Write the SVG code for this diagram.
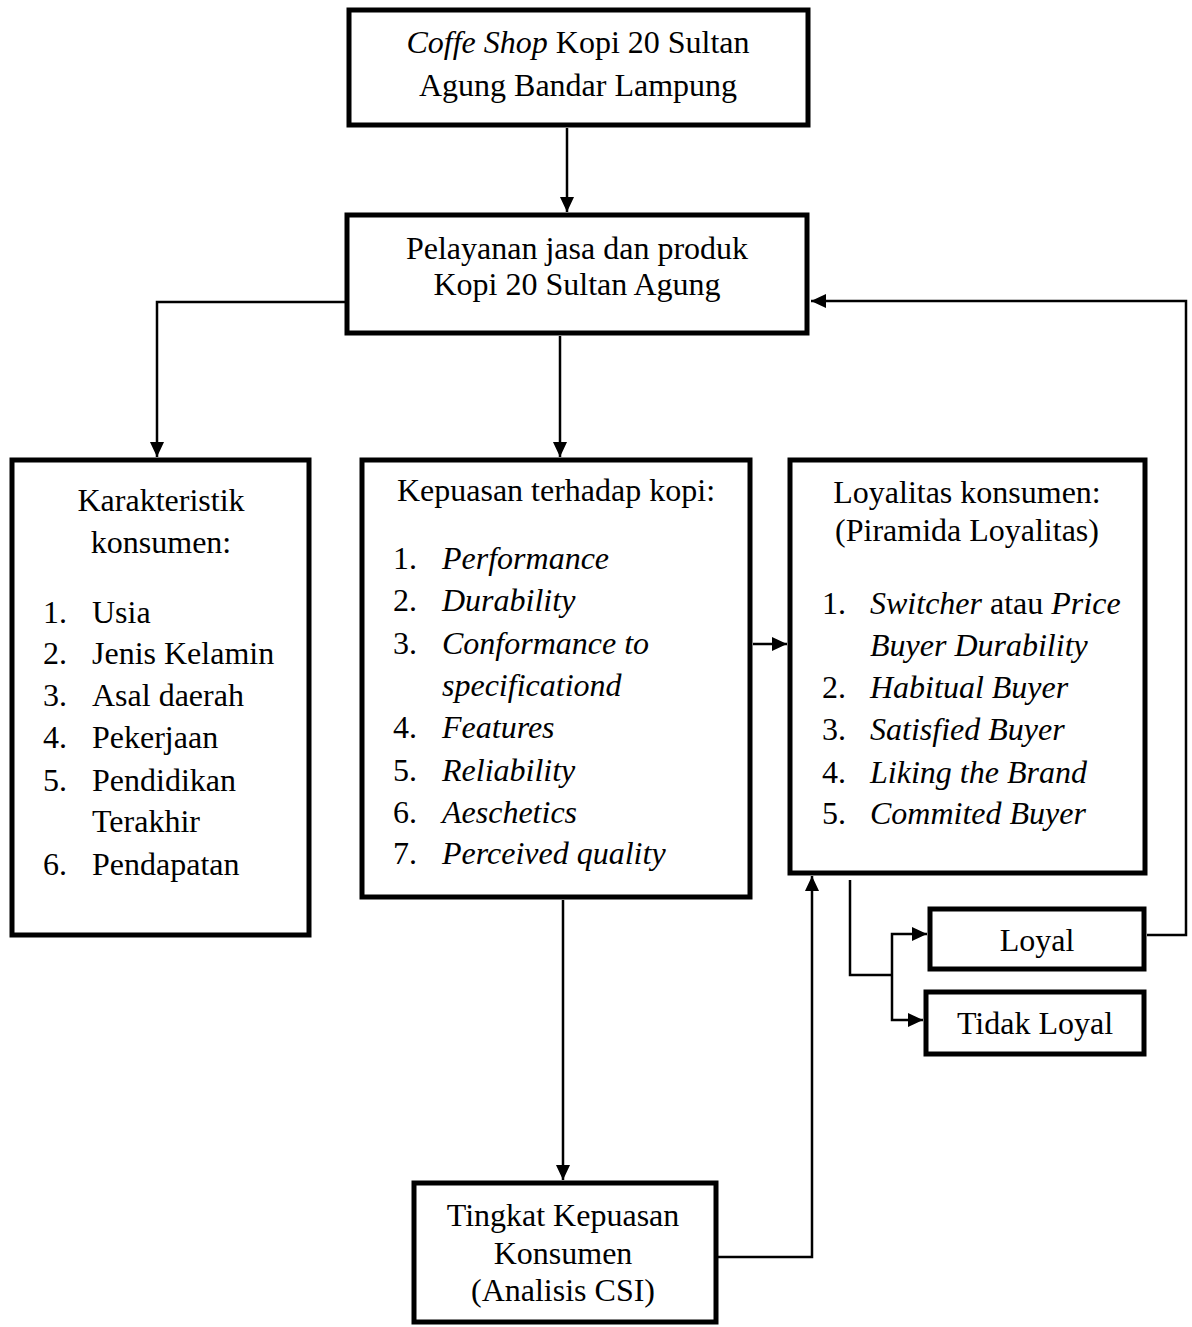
<svg xmlns="http://www.w3.org/2000/svg" width="1192" height="1327" viewBox="0 0 1192 1327">
<style>
.box{fill:#fff;stroke:#000;stroke-width:5}
.t{font-family:"Liberation Serif","Times New Roman",serif;font-size:32px;fill:#000}
.c{text-anchor:middle}
.i{font-style:italic}
.ln{fill:none;stroke:#000;stroke-width:2.5}
</style>
<defs>
<marker id="ah" markerUnits="userSpaceOnUse" markerWidth="16" markerHeight="16" refX="15" refY="8" orient="auto">
<path d="M0,1 L15,8 L0,15 Z" fill="#000"/>
</marker>
</defs>
<rect width="1192" height="1327" fill="#fff"/>
<g id="connectors">
<path class="ln" d="M567 128 V212" marker-end="url(#ah)"/>
<path class="ln" d="M347 302 H157 V457" marker-end="url(#ah)"/>
<path class="ln" d="M560 336 V457" marker-end="url(#ah)"/>
<path class="ln" d="M1147 935 H1186 V301 H811" marker-end="url(#ah)"/>
<path class="ln" d="M753 644 H787" marker-end="url(#ah)"/>
<path class="ln" d="M850 880 V975 H892"/>
<path class="ln" d="M892 975 V934 H927" marker-end="url(#ah)"/>
<path class="ln" d="M892 975 V1020 H923" marker-end="url(#ah)"/>
<path class="ln" d="M563 900 V1180" marker-end="url(#ah)"/>
<path class="ln" d="M716 1257 H812 V876" marker-end="url(#ah)"/>
</g>
<g id="coffeeshop">
<rect class="box" x="349" y="10" width="459" height="115"/>
<text class="t c" x="578" y="53"><tspan class="i">Coffe Shop</tspan> Kopi 20 Sultan</text>
<text class="t c" x="578" y="96">Agung Bandar Lampung</text>
</g>
<g id="pelayanan">
<rect class="box" x="347" y="215" width="460" height="118"/>
<text class="t c" x="577" y="259">Pelayanan jasa dan produk</text>
<text class="t c" x="577" y="295">Kopi 20 Sultan Agung</text>
</g>
<g id="karakteristik">
<rect class="box" x="12" y="460" width="297" height="475"/>
<text class="t c" x="161" y="511">Karakteristik</text>
<text class="t c" x="161" y="553">konsumen:</text>
<text class="t" x="43" y="623">1.</text><text class="t" x="92" y="623">Usia</text>
<text class="t" x="43" y="664">2.</text><text class="t" x="92" y="664">Jenis Kelamin</text>
<text class="t" x="43" y="706">3.</text><text class="t" x="92" y="706">Asal daerah</text>
<text class="t" x="43" y="748">4.</text><text class="t" x="92" y="748">Pekerjaan</text>
<text class="t" x="43" y="791">5.</text><text class="t" x="92" y="791">Pendidikan</text>
<text class="t" x="92" y="832">Terakhir</text>
<text class="t" x="43" y="875">6.</text><text class="t" x="92" y="875">Pendapatan</text>
</g>
<g id="kepuasan">
<rect class="box" x="362" y="460" width="388" height="437"/>
<text class="t c" x="556" y="501">Kepuasan terhadap kopi:</text>
<text class="t" x="393" y="569">1.</text><text class="t i" x="442" y="569">Performance</text>
<text class="t" x="393" y="611">2.</text><text class="t i" x="442" y="611">Durability</text>
<text class="t" x="393" y="654">3.</text><text class="t i" x="442" y="654">Conformance to</text>
<text class="t i" x="442" y="696">specificationd</text>
<text class="t" x="393" y="738">4.</text><text class="t i" x="442" y="738">Features</text>
<text class="t" x="393" y="781">5.</text><text class="t i" x="442" y="781">Reliability</text>
<text class="t" x="393" y="823">6.</text><text class="t i" x="442" y="823">Aeschetics</text>
<text class="t" x="393" y="864">7.</text><text class="t i" x="442" y="864">Perceived quality</text>
</g>
<g id="loyalitas">
<rect class="box" x="790" y="460" width="355" height="413"/>
<text class="t c" x="967" y="503">Loyalitas konsumen:</text>
<text class="t c" x="967" y="541">(Piramida Loyalitas)</text>
<text class="t" x="822" y="614">1.</text><text class="t" x="870" y="614"><tspan class="i">Switcher</tspan> atau <tspan class="i">Price</tspan></text>
<text class="t i" x="870" y="656">Buyer Durability</text>
<text class="t" x="822" y="698">2.</text><text class="t i" x="870" y="698">Habitual Buyer</text>
<text class="t" x="822" y="740">3.</text><text class="t i" x="870" y="740">Satisfied Buyer</text>
<text class="t" x="822" y="783">4.</text><text class="t i" x="870" y="783">Liking the Brand</text>
<text class="t" x="822" y="824">5.</text><text class="t i" x="870" y="824">Commited Buyer</text>
</g>
<g id="loyal">
<rect class="box" x="930" y="909" width="214" height="60"/>
<text class="t c" x="1037" y="951">Loyal</text>
</g>
<g id="tidakloyal">
<rect class="box" x="926" y="992" width="218" height="62"/>
<text class="t c" x="1035" y="1034">Tidak Loyal</text>
</g>
<g id="csi">
<rect class="box" x="414" y="1183" width="302" height="139"/>
<text class="t c" x="563" y="1226">Tingkat Kepuasan</text>
<text class="t c" x="563" y="1264">Konsumen</text>
<text class="t c" x="563" y="1301">(Analisis CSI)</text>
</g>
</svg>
